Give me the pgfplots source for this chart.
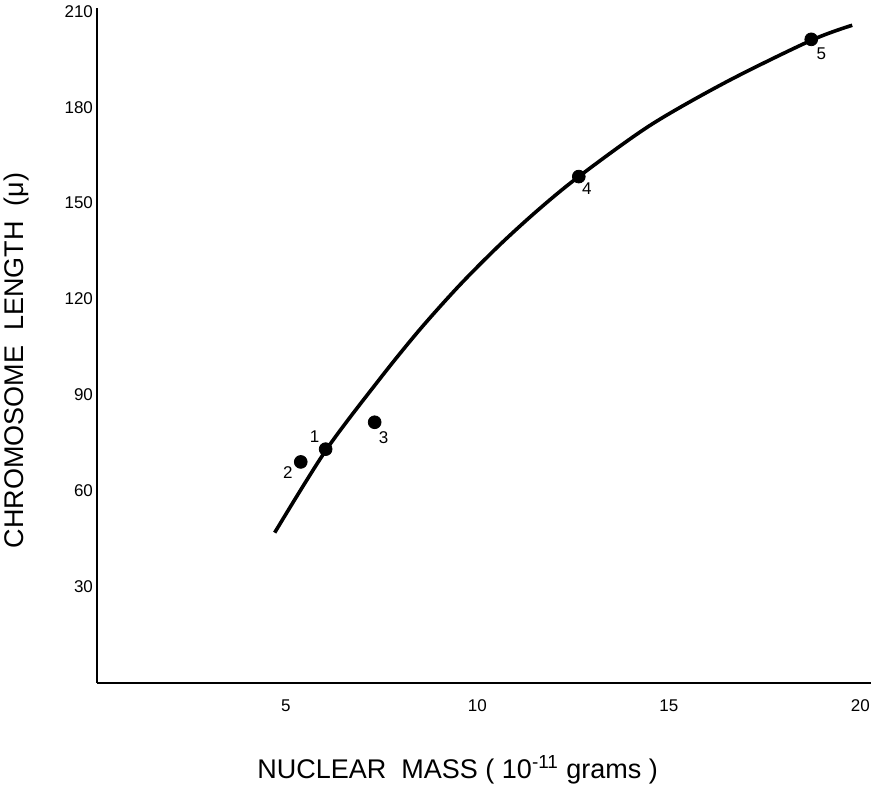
\documentclass[border=0pt]{standalone}
\usepackage{fontspec}
\setmainfont{Liberation Sans}
\usepackage{pgfplots}
\pgfplotsset{compat=1.18}
\begin{document}
\begin{tikzpicture}
\path[use as bounding box] (-48.5pt,-51.5pt) rectangle (393.5pt,341.5pt);
\begin{axis}[
  at={(0pt,0pt)}, anchor=south west,
  scale only axis, width=387pt, height=337.5pt,
  xmin=0.07, xmax=20.28, ymin=0, ymax=211,
  axis x line=bottom, axis y line=left,
  axis line style={-, line width=1.3pt},
  xtick={5,10,15,20}, ytick={30,60,90,120,150,180,210},
  major tick length=0pt,
  /pgf/number format/assume math mode=true,
  tick label style={font=\fontsize{8.5}{10}\selectfont},
  xticklabel style={yshift=-5pt},
  yticklabel style={anchor=east, xshift=1.5pt},
  xlabel={NUCLEAR\ \ MASS ( 10\textsuperscript{-11} grams )},
  ylabel={CHROMOSOME\ \ LENGTH\ \ (μ)},
  label style={font=\fontsize{13.5}{15}\selectfont},
  xlabel style={at={(axis description cs:0.466,0)}, anchor=center, yshift=-43.5pt},
  ylabel style={at={(axis description cs:-0.1034,0.478)}, anchor=center},
  clip=false,
]
\addplot[black, line width=1.8pt, smooth, tension=0.5] coordinates {
  (4.71,47.0) (6.05,72.8) (7.45,95.0) (8.5,110.5) (9.55,124.5)
  (10.59,137.0) (11.6,148.0) (12.65,158.3) (14.51,174.3)
  (16.52,188.0) (18.72,200.9) (19.79,205.6)
};
\addplot[only marks, mark=*, mark size=3.2pt, black] coordinates {
  (6.04,73.1) (5.39,69.1) (7.32,81.5) (12.65,158.3) (18.72,201.2)
};
\begin{scope}[every node/.style={font=\fontsize{8.5}{10}\selectfont, inner sep=0pt}]
\node at (axis cs:6.04,73.1) [xshift=-5.5pt, yshift=6pt] {1};
\node at (axis cs:5.39,69.1) [xshift=-6.5pt, yshift=-5.5pt] {2};
\node at (axis cs:7.32,81.5) [xshift=4.5pt, yshift=-7.5pt] {3};
\node at (axis cs:12.65,158.3) [xshift=4pt, yshift=-6pt] {4};
\node at (axis cs:18.72,201.2) [xshift=5pt, yshift=-7pt] {5};
\end{scope}
\end{axis}
\end{tikzpicture}
\end{document}
